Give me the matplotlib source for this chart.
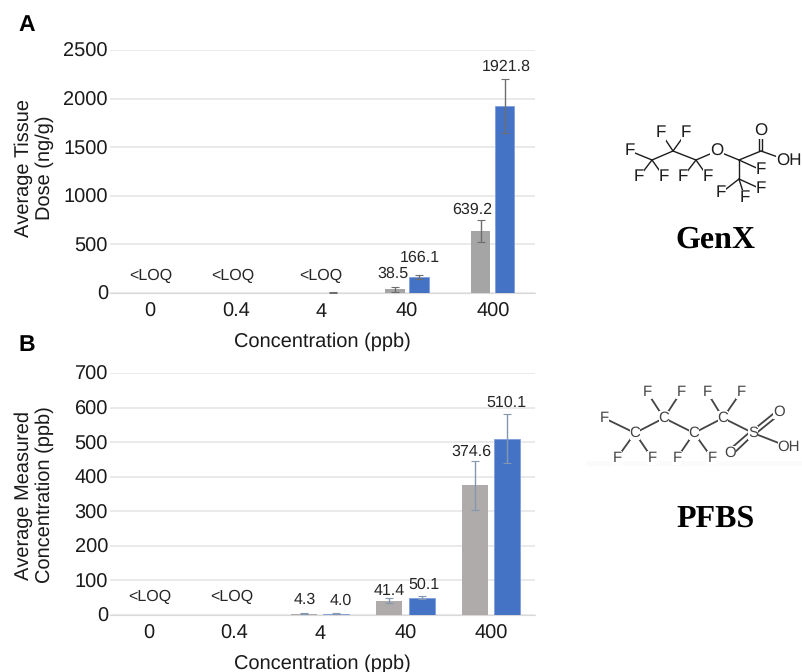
import matplotlib
matplotlib.use("Agg")
import matplotlib.pyplot as plt

plt.rcParams["font.family"] = ["Liberation Sans", "DejaVu Sans"]
plt.rcParams["text.hinting"] = "no_hinting"
plt.rcParams["text.hinting_factor"] = 1

W, H = 803, 672

concentrations = ["0", "0.4", "4", "40", "400"]

# panel A, tissue dose
a_gray = [0, 0, 0, 38.5, 639.2]
a_blue = [0, 0, 5, 166.1, 1921.8]
a_gray_err = [0, 0, 0, 24, 113]
a_blue_err = [0, 0, 3, 18, 280]
a_gray_labels = ["<LOQ", "<LOQ", "<LOQ", "38.5", "639.2"]
a_blue_labels = ["", "", "", "166.1", "1921.8"]

# panel B, measured concentration
b_gray = [0, 0, 4.3, 41.4, 374.6]
b_blue = [0, 0, 4.0, 50.1, 510.1]
b_gray_err = [0, 0, 1, 8, 72]
b_blue_err = [0, 0, 1, 5, 71]
b_gray_labels = ["<LOQ", "<LOQ", "4.3", "41.4", "374.6"]
b_blue_labels = ["", "", "4.0", "50.1", "510.1"]

# label offsets from the bar centre and top of the error bar, in pixels
a_gray_off = [(13, 17), (9, 17), (11, 17), (-2, 13), (-9, 10)]
a_blue_off = [(0, 0), (0, 0), (0, 0), (1, 17), (1, 12)]
b_gray_off = [(17, 18), (13, 18), (1, 13), (0, 7), (-3, 9)]
b_blue_off = [(0, 0), (0, 0), (4, 13), (2, 11), (-1, 11)]

# structures, in image pixels
genx_atoms = [
    ("F", 661, 133), ("F", 686, 133), ("F", 630, 151), ("F", 639, 177),
    ("F", 664, 177), ("F", 683, 177), ("F", 708, 177), ("O", 717, 151),
    ("O", 761, 131), ("OH", 789, 161), ("F", 761, 170), ("F", 721, 193),
    ("F", 745, 198), ("F", 761, 189),
]
genx_bonds = [
    (630, 151, 652, 160), (652, 160, 639, 177), (652, 160, 664, 177),
    (652, 160, 673, 151), (673, 151, 661, 133), (673, 151, 686, 133),
    (673, 151, 696, 160), (696, 160, 683, 177), (696, 160, 708, 177),
    (696, 160, 717, 151), (717, 151, 739, 160), (739, 160, 761, 151),
    (739, 160, 761, 170), (739, 160, 739, 179), (739, 179, 721, 193),
    (739, 179, 745, 198), (739, 179, 761, 189), (761, 151, 789, 161),
    (759.5, 151, 759.5, 131), (762.5, 151, 762.5, 131),
]
pfbs_atoms = [
    ("C", 635, 433), ("C", 664, 418), ("C", 694, 433), ("C", 723, 418),
    ("S", 753, 433), ("O", 779, 412), ("O", 730, 453), ("OH", 789, 447),
    ("F", 647, 392), ("F", 681, 392), ("F", 707, 392), ("F", 741, 392),
    ("F", 604, 418), ("F", 617, 458), ("F", 652, 458), ("F", 677, 458),
    ("F", 712, 458),
]
pfbs_bonds = [
    (604, 418, 635, 433), (635, 433, 617, 458), (635, 433, 652, 458),
    (635, 433, 664, 418), (664, 418, 647, 392), (664, 418, 681, 392),
    (664, 418, 694, 433), (694, 433, 677, 458), (694, 433, 712, 458),
    (694, 433, 723, 418), (723, 418, 707, 392), (723, 418, 741, 392),
    (723, 418, 753, 433), (753, 433, 789, 447),
    (752, 431, 778, 410), (754, 435, 780, 414),
    (751, 431, 728, 451), (753, 435, 732, 455),
]


def px_axes(fig, left, right, top, bottom):
    return fig.add_axes([left / W, 1 - bottom / H, (right - left) / W, (bottom - top) / H])


def draw_panel(ax, gray, blue, gray_err, blue_err, gray_labels, blue_labels,
               gray_off, blue_off, gray_color, err_color, width, off, ymax, step, xlim):
    x = range(len(concentrations))
    gx = [i - off for i in x]
    bx = [i + off for i in x]
    ax.bar(gx, gray, width, color=gray_color, zorder=3)
    ax.bar(bx, blue, width, color="#4472c4", edgecolor="#7f9fdc", linewidth=0.6, zorder=3)
    for xs, vals, errs in ((gx, gray, gray_err), (bx, blue, blue_err)):
        for xi, v, e in zip(xs, vals, errs):
            if e > 0:
                ax.errorbar(xi, v, yerr=e, color=err_color, elinewidth=1.0,
                            capsize=3, capthick=0.8, zorder=4)
    for xs, vals, errs, labels, offs in ((gx, gray, gray_err, gray_labels, gray_off),
                                         (bx, blue, blue_err, blue_labels, blue_off)):
        for xi, v, e, lab, o in zip(xs, vals, errs, labels, offs):
            if lab:
                ax.annotate(lab, (xi, v + e), xytext=(o[0] * 0.72, o[1] * 0.72),
                            textcoords="offset points", ha="center", va="center",
                            fontsize=11.5, color="#262626", zorder=5)
    ax.set_xlim(*xlim)
    ax.set_ylim(0, ymax)
    ax.set_yticks(range(0, ymax + 1, step))
    ax.set_xticks(list(x))
    ax.set_xticklabels(concentrations)
    ax.tick_params(length=0, labelsize=14.5, colors="#1a1a1a")
    ax.tick_params(axis="x", pad=7)
    ax.tick_params(axis="y", pad=1.5)
    ax.grid(axis="y", color="#e4e4e4", linewidth=1.1, zorder=0)
    ax.set_axisbelow(True)
    for s in ax.spines.values():
        s.set_visible(False)
    ax.spines["bottom"].set_visible(True)
    ax.spines["bottom"].set_color("#d9d9d9")
    ax.set_xlabel("Concentration (ppb)", fontsize=14.7, color="#1a1a1a", labelpad=8)


fig = plt.figure(figsize=(W / 100, H / 100), dpi=100)

ax_a = px_axes(fig, 110, 535, 50, 293)
draw_panel(ax_a, a_gray, a_blue, a_gray_err, a_blue_err, a_gray_labels, a_blue_labels,
           a_gray_off, a_blue_off, "#a5a5a5", "#6e6e6e", 0.225, 0.14, 2500, 500, (-0.467, 4.492))

ax_b = px_axes(fig, 110, 535, 373, 615)
draw_panel(ax_b, b_gray, b_blue, b_gray_err, b_blue_err, b_gray_labels, b_blue_labels,
           b_gray_off, b_blue_off, "#afabab", "#8497b0", 0.305, 0.19, 700, 100, (-0.457, 4.515))

# overlay in image pixels for the letters, axis titles and structures
ov = fig.add_axes([0, 0, 1, 1], zorder=10)
ov.set_xlim(0, W)
ov.set_ylim(H, 0)
ov.axis("off")

ov.text(27, 25, "A", fontsize=16.5, fontweight="bold", ha="center", va="center")
ov.text(27, 345, "B", fontsize=16.5, fontweight="bold", ha="center", va="center")
ov.text(34, 168, "Average Tissue\nDose (ng/g)", rotation=90, fontsize=14.3, color="#1a1a1a",
        ha="center", va="center", linespacing=1.2)
ov.text(34, 495, "Average Measured\nConcentration (ppb)", rotation=90, fontsize=14.3, color="#1a1a1a",
        ha="center", va="center", linespacing=1.2)

ov.fill_between([586, 803], 461, 466, color="#fbfbfa", linewidth=0)

for bonds, atoms, col, size, lw in ((genx_bonds, genx_atoms, "#1c1c1c", 12.5, 1.0),
                                    (pfbs_bonds, pfbs_atoms, "#444444", 10.5, 1.3)):
    for x0, y0, x1, y1 in bonds:
        ov.plot([x0, x1], [y0, y1], color=col, linewidth=lw, solid_capstyle="round")
    for name, ax_x, ax_y in atoms:
        ov.text(ax_x, ax_y, name, fontsize=size, color=col, ha="center", va="center",
                bbox=dict(facecolor="white", edgecolor="none", pad=0))

ov.text(715, 240, "GenX", family="Liberation Serif", fontsize=22.8, fontweight="bold",
        ha="center", va="center")
ov.text(716, 519, "PFBS", family="Liberation Serif", fontsize=22.8, fontweight="bold",
        ha="center", va="center")

fig.savefig("out.png", dpi=100)
